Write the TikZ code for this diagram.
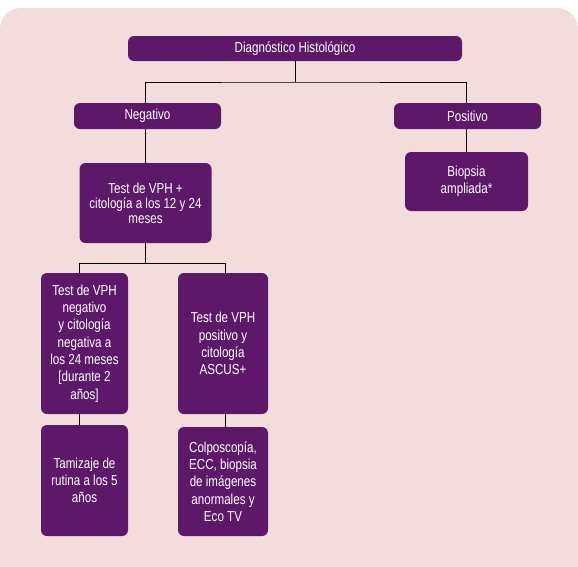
\documentclass[tikz,border=0pt]{standalone}
\usepackage{fontspec}
\setmainfont{Liberation Sans}[FakeStretch=0.8]
\usetikzlibrary{positioning}
\definecolor{fondo}{HTML}{F2DCDC}
\definecolor{morado}{HTML}{5E186A}
\tikzset{
    caja/.style={fill=morado, text=white, rounded corners=6pt, align=center,
        inner sep=0pt, font=\fontsize{14.5}{17.3}\selectfont},
    rama/.style={draw=black, line width=0.8pt}
}
\begin{document}
\begin{tikzpicture}[x=1pt, y=-1pt]
    \useasboundingbox (0,0) rectangle (578,566);
    \clip (0,0) rectangle (578,566);
    \fill[fondo, rounded corners=21pt] (0,8) rectangle (578,600);
    % cajas
    \node[caja, minimum width=334pt, minimum height=25pt] (diag) at (295,48.5) {Diagnóstico Histológico};
    \node[caja, minimum width=147pt, minimum height=26pt] (neg) at (147.5,116) {Negativo};
    \node[caja, minimum width=147pt, minimum height=26pt] (pos) at (467.5,116) {Positivo};
    \node[caja, minimum width=123pt, minimum height=59pt] (biop) at (466.5,181.5) {Biopsia\\ampliada*};
    \node[caja, minimum width=132pt, minimum height=80pt, font=\fontsize{14.5}{15}\selectfont] (test) at (145.5,203) {Test de VPH +\\citología a los 12 y 24\\meses};
    \node[caja, minimum width=87pt, minimum height=141pt] (tneg) at (84.5,343.5) {Test de VPH\\negativo\\y citología\\negativa a\\los 24 meses\\{[}durante 2\\años{]}};
    \node[caja, minimum width=90pt, minimum height=141pt] (tpos) at (223,343.5) {Test de VPH\\positivo y\\citología\\ASCUS+};
    \node[caja, minimum width=87pt, minimum height=111pt] (tam) at (84.5,480.5) {Tamizaje de\\rutina a los 5\\años};
    \node[caja, minimum width=90pt, minimum height=109pt] (colp) at (223,481.5) {Colposcopía,\\ECC, biopsia\\de imágenes\\anormales y\\Eco TV};
    % conectores
    \coordinate (c1) at (295,82);
    \coordinate (c2) at (145.5,263);
    \coordinate (c3) at (79,263);
    \coordinate (c4) at (225,263);
    \draw[rama] (diag.south) -- (c1);
    \draw[rama] (test.north |- neg.north) |- (c1) -| (biop.north |- pos.north);
    \draw[rama] (test.north |- neg.south) -- (test.north);
    \draw[rama] (biop.north |- pos.south) -- (biop.north);
    \draw[rama] (test.south) -- (c2);
    \draw[rama] (c3 |- tneg.north) -- (c3) -- (c4) -- (c4 |- tpos.north);
    \draw[rama] (c3 |- tneg.south) -- (c3 |- tam.north);
    \draw[rama] (c4 |- tpos.south) -- (c4 |- colp.north);
\end{tikzpicture}
\end{document}
